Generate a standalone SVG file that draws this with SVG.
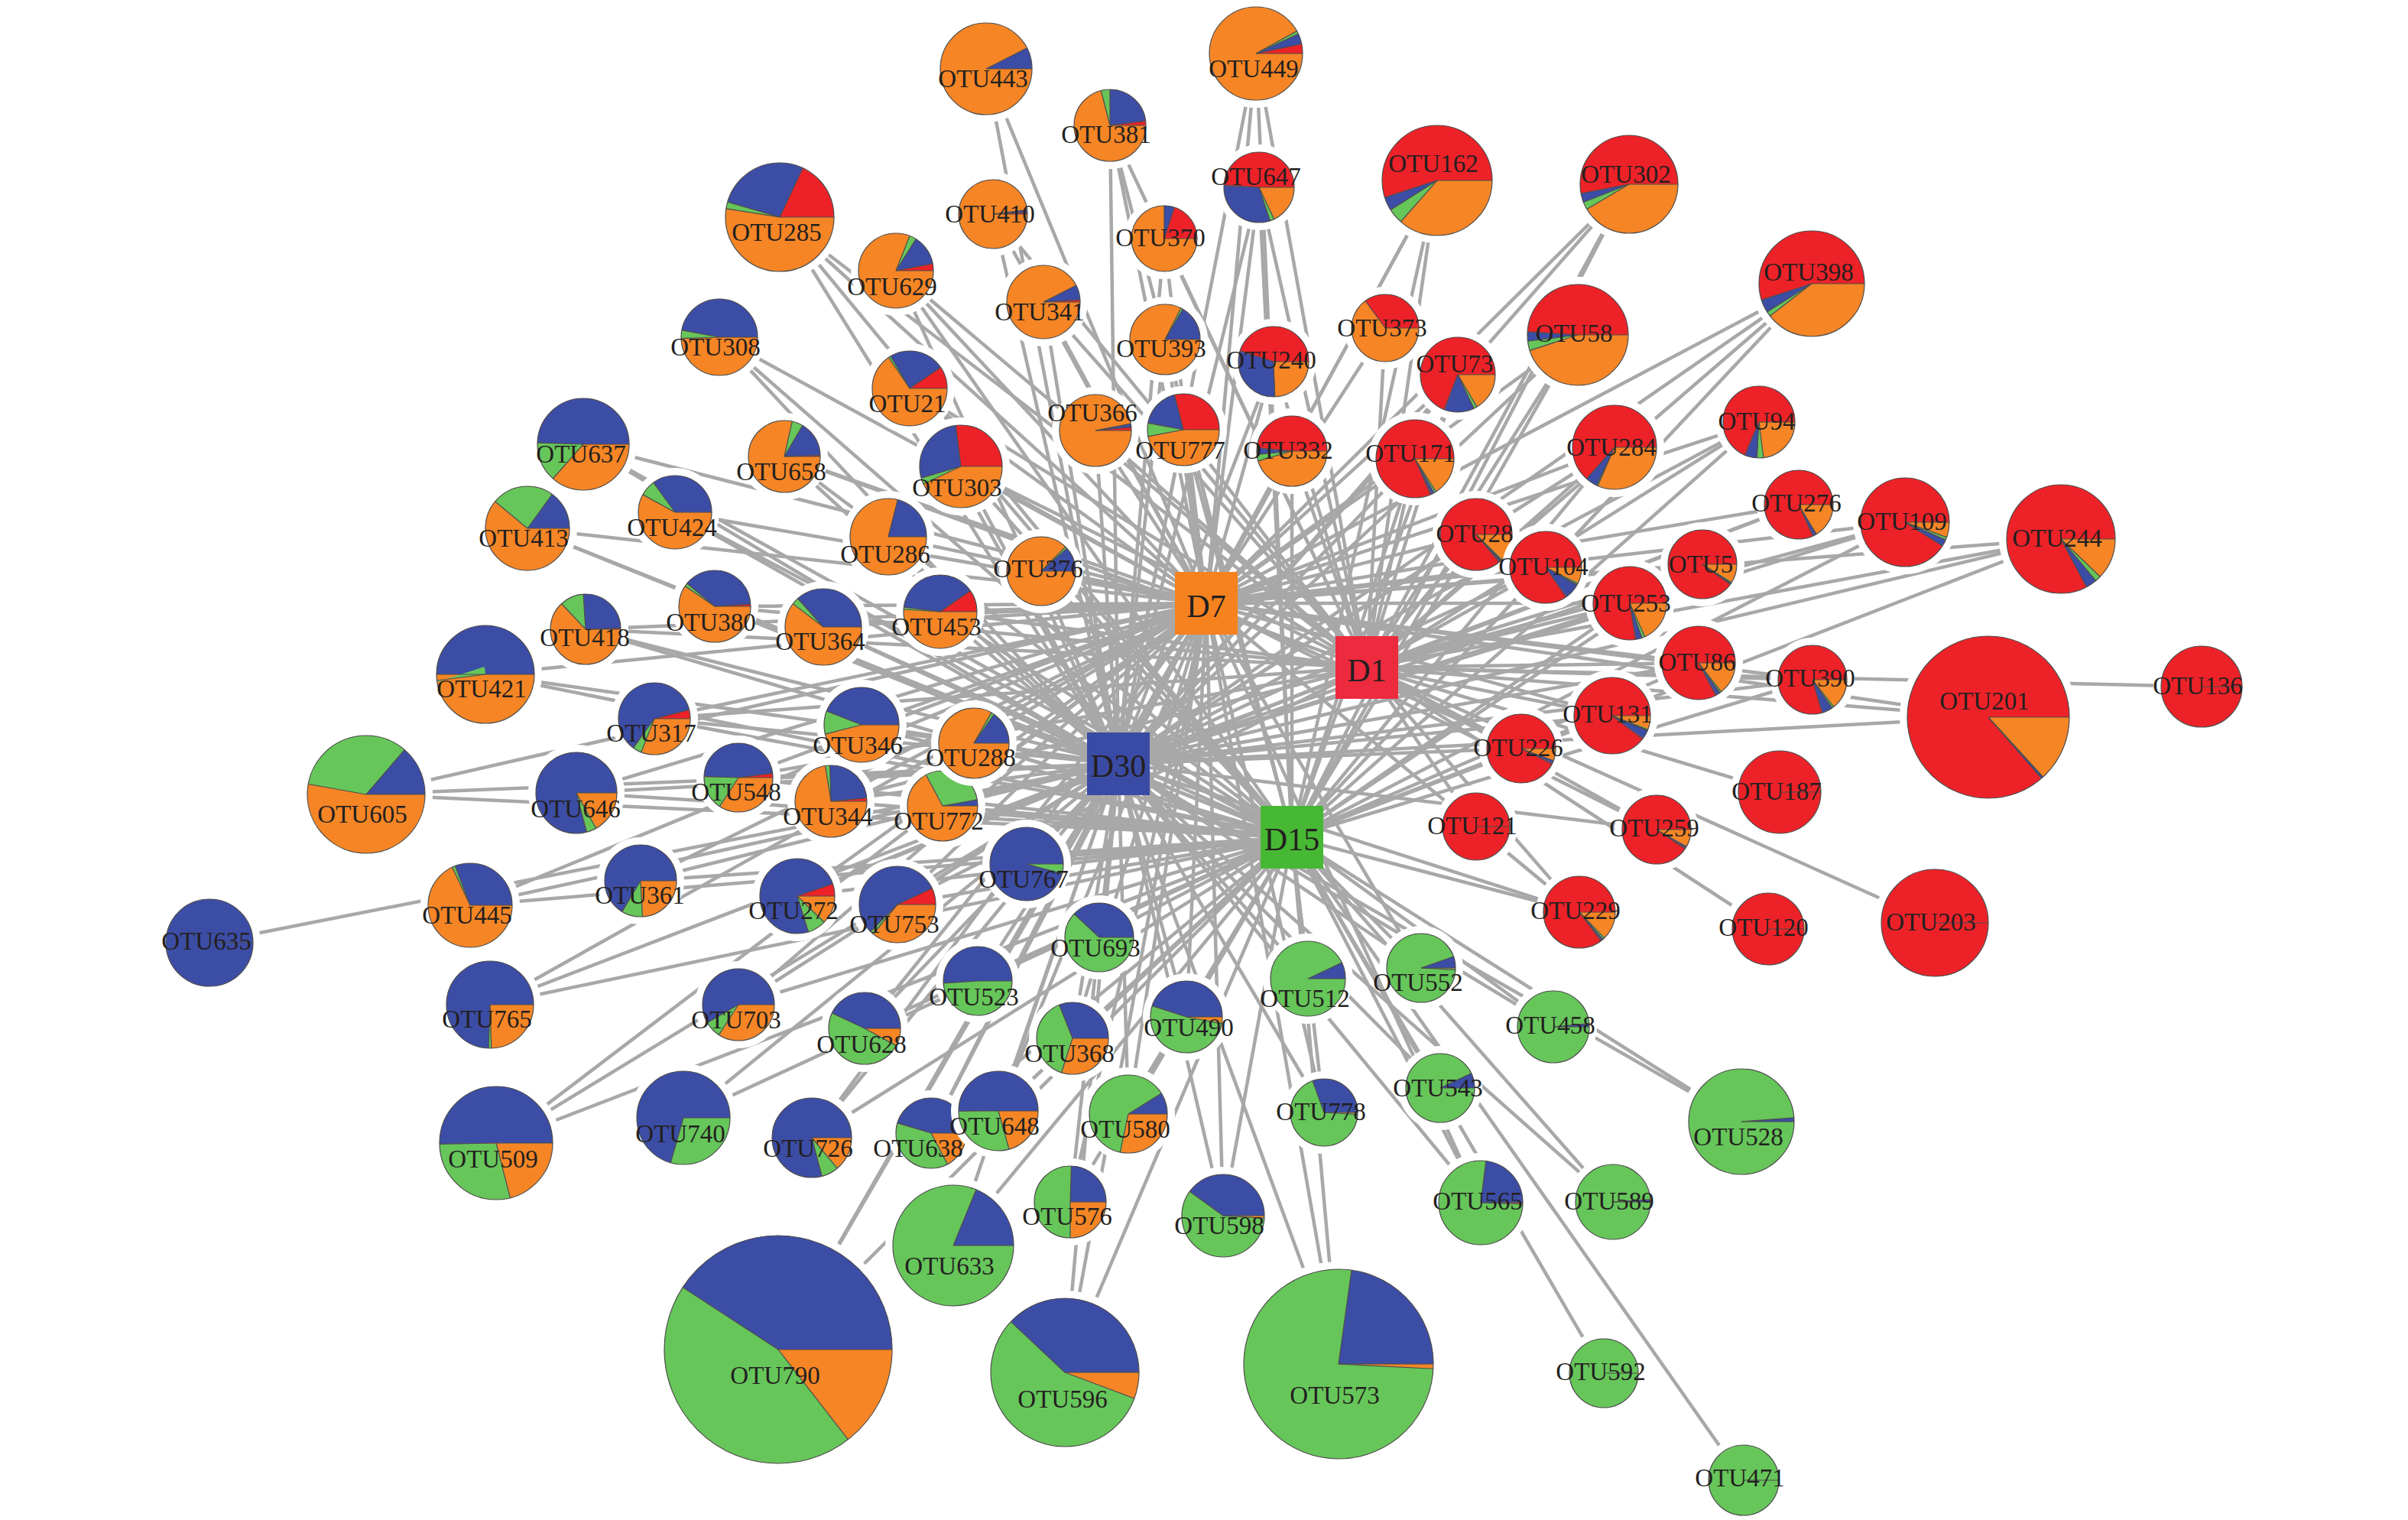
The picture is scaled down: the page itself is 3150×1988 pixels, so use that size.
<svg xmlns="http://www.w3.org/2000/svg" width="3150" height="1988" viewBox="0 0 3150 1988">
<style>
.bg{fill:#fff}
.e path{stroke:#A8A8A8;stroke-width:4.5;fill:none}
.h{fill:#fff}
.fr{fill:#ED2228}.fo{fill:#F58525}.fb{fill:#3C4DA6}.fg{fill:#66C65A}
.s{fill:none;stroke-width:100}
.r{stroke:#ED2228}.o{stroke:#F58525}.b{stroke:#3C4DA6}.g{stroke:#66C65A}
.l,.rim{stroke:#4d4d4d;stroke-width:1.2;vector-effect:non-scaling-stroke;fill:none}
text{font-family:"Liberation Serif","Times New Roman",serif;font-size:33px;fill:#231F20;text-anchor:middle}
.hub text{font-size:42px}
</style>
<rect class="bg" width="3150" height="1988"/>
<g id="edges" class="e">
<path id="e-D1" d="M1452 164L1788 873M1020 284L1788 873M1299 280L1788 873M1172 354L1788 873M1365 395L1788 873M1523 312L1788 873M1190 508L1788 873M1026 597L1788 873M1257 610L1788 873M1433 563L1788 873M1548 562L1788 873M1643 70L1788 873M1647 245L1788 873M1880 236L1788 873M2131 241L1788 873M1812 429L1788 873M1907 490L1788 873M2064 438L1788 873M2370 371L1788 873M1666 473L1788 873M1690 590L1788 873M1851 600L1788 873M2112 585L1788 873M2301 552L1788 873M1931 699L1788 873M2022 742L1788 873M2227 738L1788 873M2132 789L1788 873M2222 867L1788 873M2109 936L1788 873M2353 660L1788 873M2492 683L1788 873M2696 705L1788 873M2371 889L1788 873M2601 938L1788 873M2880 898L1788 873M2531 1207L1788 873M2328 1036L1788 873M1990 979L1788 873M1931 1081L1788 873M2167 1085L1788 873M2066 1193L1788 873M2313 1215L1788 873M1230 800L1788 873M935 793L1788 873M766 823L1788 873M856 940L1788 873M966 1017L1788 873M1087 1048L1788 873M1043 1172L1788 873M1174 1183L1788 873"/>
<path id="e-D7" d="M1290 90L1578 789M1452 164L1578 789M1020 284L1578 789M1299 280L1578 789M1172 354L1578 789M1365 395L1578 789M1523 312L1578 789M1524 444L1578 789M941 441L1578 789M1190 508L1578 789M1026 597L1578 789M1257 610L1578 789M1433 563L1578 789M1548 562L1578 789M763 581L1578 789M1643 70L1578 789M1647 245L1578 789M1880 236L1578 789M2131 241L1578 789M1812 429L1578 789M1907 490L1578 789M2064 438L1578 789M2370 371L1578 789M1666 473L1578 789M1690 590L1578 789M1851 600L1578 789M2112 585L1578 789M2301 552L1578 789M1931 699L1578 789M2022 742L1578 789M2227 738L1578 789M2132 789L1578 789M2222 867L1578 789M2109 936L1578 789M2353 660L1578 789M2492 683L1578 789M2696 705L1578 789M2371 889L1578 789M2601 938L1578 789M1990 979L1578 789M2167 1085L1578 789M2066 1193L1578 789M1859 1266L1578 789M1732 1455L1578 789M1937 1573L1578 789M1751 1784L1578 789M1600 1590L1578 789M1018 1765L1578 789M1393 1795L1578 789M1400 1572L1578 789M1476 1457L1578 789M1306 1453L1578 789M1218 1482L1578 789M1062 1488L1578 789M1131 1345L1578 789M1403 1358L1578 789M966 1314L1578 789M1552 1330L1578 789M883 670L1578 789M1162 702L1578 789M1362 747L1578 789M1230 800L1578 789M935 793L1578 789M1077 820L1578 789M766 823L1578 789M856 940L1578 789M1127 948L1578 789M1274 972L1578 789M966 1017L1578 789M1087 1048L1578 789M1233 1054L1578 789M1043 1172L1578 789M1174 1183L1578 789M838 1152L1578 789M754 1037L1578 789M635 882L1578 789M479 1039L1578 789M615 1184L1578 789M641 1314L1578 789M649 1495L1578 789M690 691L1578 789"/>
<path id="e-D15" d="M1452 164L1690 1095M1020 284L1690 1095M1172 354L1690 1095M1524 444L1690 1095M941 441L1690 1095M1190 508L1690 1095M1026 597L1690 1095M1257 610L1690 1095M1548 562L1690 1095M763 581L1690 1095M1643 70L1690 1095M1647 245L1690 1095M1880 236L1690 1095M2131 241L1690 1095M1907 490L1690 1095M2064 438L1690 1095M2370 371L1690 1095M1690 590L1690 1095M1851 600L1690 1095M2112 585L1690 1095M2301 552L1690 1095M1931 699L1690 1095M2022 742L1690 1095M2227 738L1690 1095M2132 789L1690 1095M2222 867L1690 1095M2109 936L1690 1095M2492 683L1690 1095M2696 705L1690 1095M2371 889L1690 1095M2066 1193L1690 1095M1859 1266L1690 1095M1711 1280L1690 1095M2032 1343L1690 1095M1884 1423L1690 1095M1732 1455L1690 1095M1937 1573L1690 1095M2110 1572L1690 1095M2278 1467L1690 1095M2098 1796L1690 1095M2281 1936L1690 1095M1751 1784L1690 1095M1600 1590L1690 1095M1018 1765L1690 1095M1393 1795L1690 1095M1247 1629L1690 1095M1400 1572L1690 1095M1476 1457L1690 1095M1306 1453L1690 1095M1218 1482L1690 1095M1062 1488L1690 1095M894 1462L1690 1095M1131 1345L1690 1095M1403 1358L1690 1095M966 1314L1690 1095M1552 1330L1690 1095M883 670L1690 1095M1362 747L1690 1095M1230 800L1690 1095M935 793L1690 1095M1077 820L1690 1095M766 823L1690 1095M856 940L1690 1095M1127 948L1690 1095M1274 972L1690 1095M966 1017L1690 1095M1087 1048L1690 1095M1233 1054L1690 1095M1343 1130L1690 1095M1438 1226L1690 1095M1279 1283L1690 1095M1043 1172L1690 1095M1174 1183L1690 1095M838 1152L1690 1095M754 1037L1690 1095M635 882L1690 1095M479 1039L1690 1095M615 1184L1690 1095M641 1314L1690 1095M649 1495L1690 1095M690 691L1690 1095"/>
<path id="e-D30" d="M1290 90L1463 999M1452 164L1463 999M1020 284L1463 999M1299 280L1463 999M1172 354L1463 999M1365 395L1463 999M1523 312L1463 999M1524 444L1463 999M941 441L1463 999M1190 508L1463 999M1026 597L1463 999M1257 610L1463 999M1433 563L1463 999M1548 562L1463 999M763 581L1463 999M1643 70L1463 999M1647 245L1463 999M1880 236L1463 999M2131 241L1463 999M1907 490L1463 999M2064 438L1463 999M2370 371L1463 999M1666 473L1463 999M1690 590L1463 999M1851 600L1463 999M2112 585L1463 999M2301 552L1463 999M1931 699L1463 999M2022 742L1463 999M2227 738L1463 999M2132 789L1463 999M2222 867L1463 999M2109 936L1463 999M2353 660L1463 999M2492 683L1463 999M2696 705L1463 999M2371 889L1463 999M2601 938L1463 999M1990 979L1463 999M2167 1085L1463 999M2066 1193L1463 999M1859 1266L1463 999M1711 1280L1463 999M2032 1343L1463 999M1884 1423L1463 999M1732 1455L1463 999M1937 1573L1463 999M2110 1572L1463 999M2278 1467L1463 999M1751 1784L1463 999M1600 1590L1463 999M1018 1765L1463 999M1393 1795L1463 999M1247 1629L1463 999M1400 1572L1463 999M1476 1457L1463 999M1306 1453L1463 999M1218 1482L1463 999M1062 1488L1463 999M894 1462L1463 999M1131 1345L1463 999M1403 1358L1463 999M966 1314L1463 999M1552 1330L1463 999M883 670L1463 999M1162 702L1463 999M1362 747L1463 999M1230 800L1463 999M935 793L1463 999M1077 820L1463 999M766 823L1463 999M856 940L1463 999M1127 948L1463 999M1274 972L1463 999M966 1017L1463 999M1087 1048L1463 999M1233 1054L1463 999M1343 1130L1463 999M1438 1226L1463 999M1279 1283L1463 999M1043 1172L1463 999M1174 1183L1463 999M838 1152L1463 999M754 1037L1463 999M635 882L1463 999M479 1039L1463 999M615 1184L1463 999M274 1233L1463 999M641 1314L1463 999M649 1495L1463 999M690 691L1463 999"/>
</g>
<g id="nodes">
<g id="OTU443"><circle class="h" cx="1290" cy="90" r="70"/><g transform="translate(1290 90) scale(.6 -.6)"><circle class="fo" r="100"/><circle class="s b" r="50" pathLength="100" stroke-dasharray="7.5 100"/><line class="l" x2="100"/><line class="l" x2="100" transform="rotate(27)"/><circle class="rim" r="100"/></g><text x="1286" y="114">OTU443</text></g>
<g id="OTU381"><circle class="h" cx="1452" cy="164" r="57"/><g transform="translate(1452 164) scale(.47 -.47)"><circle class="fo" r="100"/><circle class="s r" r="50" pathLength="100" stroke-dasharray="2 100"/><circle class="s b" r="50" pathLength="100" stroke-dasharray="23 100" stroke-dashoffset="-2"/><circle class="s g" r="50" pathLength="100" stroke-dasharray="4 100" stroke-dashoffset="-25"/><line class="l" x2="100"/><line class="l" x2="100" transform="rotate(7.2)"/><line class="l" x2="100" transform="rotate(90)"/><line class="l" x2="100" transform="rotate(104.4)"/><circle class="rim" r="100"/></g><text x="1447" y="187">OTU381</text></g>
<g id="OTU285"><circle class="h" cx="1020" cy="284" r="81"/><g transform="translate(1020 284) scale(.71 -.71)"><circle class="fo" r="100"/><circle class="s r" r="50" pathLength="100" stroke-dasharray="18 100"/><circle class="s b" r="50" pathLength="100" stroke-dasharray="27.5 100" stroke-dashoffset="-18"/><circle class="s g" r="50" pathLength="100" stroke-dasharray="2 100" stroke-dashoffset="-45.5"/><line class="l" x2="100"/><line class="l" x2="100" transform="rotate(64.8)"/><line class="l" x2="100" transform="rotate(163.8)"/><line class="l" x2="100" transform="rotate(171)"/><circle class="rim" r="100"/></g><text x="1016" y="315">OTU285</text></g>
<g id="OTU410"><circle class="h" cx="1299" cy="280" r="55"/><g transform="translate(1299 280) scale(.45 -.45)"><circle class="fo" r="100"/><circle class="s r" r="50" pathLength="100" stroke-dasharray="0.8 100"/><circle class="s b" r="50" pathLength="100" stroke-dasharray="1.2 100" stroke-dashoffset="-0.8"/><line class="l" x2="100"/><line class="l" x2="100" transform="rotate(2.9)"/><line class="l" x2="100" transform="rotate(7.2)"/><circle class="rim" r="100"/></g><text x="1295" y="291">OTU410</text></g>
<g id="OTU629"><circle class="h" cx="1172" cy="354" r="59"/><g transform="translate(1172 354) scale(.49 -.49)"><circle class="fo" r="100"/><circle class="s r" r="50" pathLength="100" stroke-dasharray="3 100"/><circle class="s b" r="50" pathLength="100" stroke-dasharray="13 100" stroke-dashoffset="-3"/><circle class="s g" r="50" pathLength="100" stroke-dasharray="3 100" stroke-dashoffset="-16"/><line class="l" x2="100"/><line class="l" x2="100" transform="rotate(10.8)"/><line class="l" x2="100" transform="rotate(57.6)"/><line class="l" x2="100" transform="rotate(68.4)"/><circle class="rim" r="100"/></g><text x="1167" y="386">OTU629</text></g>
<g id="OTU341"><circle class="h" cx="1365" cy="395" r="58"/><g transform="translate(1365 395) scale(.48 -.48)"><circle class="fo" r="100"/><circle class="s r" r="50" pathLength="100" stroke-dasharray="1 100"/><circle class="s b" r="50" pathLength="100" stroke-dasharray="6.5 100" stroke-dashoffset="-1"/><line class="l" x2="100"/><line class="l" x2="100" transform="rotate(3.6)"/><line class="l" x2="100" transform="rotate(27)"/><circle class="rim" r="100"/></g><text x="1360" y="419">OTU341</text></g>
<g id="OTU370"><circle class="h" cx="1523" cy="312" r="53"/><g transform="translate(1523 312) scale(.43 -.43)"><circle class="fo" r="100"/><circle class="s r" r="50" pathLength="100" stroke-dasharray="20 100"/><circle class="s b" r="50" pathLength="100" stroke-dasharray="5 100" stroke-dashoffset="-20"/><line class="l" x2="100"/><line class="l" x2="100" transform="rotate(72)"/><line class="l" x2="100" transform="rotate(90)"/><circle class="rim" r="100"/></g><text x="1518" y="322">OTU370</text></g>
<g id="OTU393"><circle class="h" cx="1524" cy="444" r="56"/><g transform="translate(1524 444) scale(.46 -.46)"><circle class="fo" r="100"/><circle class="s b" r="50" pathLength="100" stroke-dasharray="16.5 100"/><circle class="s g" r="50" pathLength="100" stroke-dasharray="1 100" stroke-dashoffset="-16.5"/><line class="l" x2="100"/><line class="l" x2="100" transform="rotate(59.4)"/><line class="l" x2="100" transform="rotate(63)"/><circle class="rim" r="100"/></g><text x="1519" y="467">OTU393</text></g>
<g id="OTU308"><circle class="h" cx="941" cy="441" r="60"/><g transform="translate(941 441) scale(.5 -.5)"><circle class="fo" r="100"/><circle class="s b" r="50" pathLength="100" stroke-dasharray="47 100"/><circle class="s g" r="50" pathLength="100" stroke-dasharray="3.5 100" stroke-dashoffset="-47"/><line class="l" x2="100"/><line class="l" x2="100" transform="rotate(169.2)"/><line class="l" x2="100" transform="rotate(181.8)"/><circle class="rim" r="100"/></g><text x="936" y="465">OTU308</text></g>
<g id="OTU21"><circle class="h" cx="1190" cy="508" r="59"/><g transform="translate(1190 508) scale(.49 -.49)"><circle class="fo" r="100"/><circle class="s r" r="50" pathLength="100" stroke-dasharray="9.5 100"/><circle class="s b" r="50" pathLength="100" stroke-dasharray="24 100" stroke-dashoffset="-9.5"/><circle class="s g" r="50" pathLength="100" stroke-dasharray="1 100" stroke-dashoffset="-33.5"/><line class="l" x2="100"/><line class="l" x2="100" transform="rotate(34.2)"/><line class="l" x2="100" transform="rotate(120.6)"/><line class="l" x2="100" transform="rotate(124.2)"/><circle class="rim" r="100"/></g><text x="1187" y="539">OTU21</text></g>
<g id="OTU658"><circle class="h" cx="1026" cy="597" r="57"/><g transform="translate(1026 597) scale(.47 -.47)"><circle class="fo" r="100"/><circle class="s r" r="50" pathLength="100" stroke-dasharray="0.5 100"/><circle class="s b" r="50" pathLength="100" stroke-dasharray="16 100" stroke-dashoffset="-0.5"/><circle class="s g" r="50" pathLength="100" stroke-dasharray="5 100" stroke-dashoffset="-16.5"/><line class="l" x2="100"/><line class="l" x2="100" transform="rotate(1.8)"/><line class="l" x2="100" transform="rotate(59.4)"/><line class="l" x2="100" transform="rotate(77.4)"/><circle class="rim" r="100"/></g><text x="1022" y="628">OTU658</text></g>
<g id="OTU303"><circle class="h" cx="1257" cy="610" r="64"/><g transform="translate(1257 610) scale(.54 -.54)"><circle class="fo" r="100"/><circle class="s r" r="50" pathLength="100" stroke-dasharray="27 100"/><circle class="s b" r="50" pathLength="100" stroke-dasharray="27.5 100" stroke-dashoffset="-27"/><circle class="s g" r="50" pathLength="100" stroke-dasharray="2.5 100" stroke-dashoffset="-54.5"/><line class="l" x2="100"/><line class="l" x2="100" transform="rotate(97.2)"/><line class="l" x2="100" transform="rotate(196.2)"/><line class="l" x2="100" transform="rotate(205.2)"/><circle class="rim" r="100"/></g><text x="1252" y="649">OTU303</text></g>
<g id="OTU366"><circle class="h" cx="1433" cy="563" r="57"/><g transform="translate(1433 563) scale(.47 -.47)"><circle class="fo" r="100"/><circle class="s r" r="50" pathLength="100" stroke-dasharray="1.5 100"/><circle class="s b" r="50" pathLength="100" stroke-dasharray="1.5 100" stroke-dashoffset="-1.5"/><line class="l" x2="100"/><line class="l" x2="100" transform="rotate(5.4)"/><line class="l" x2="100" transform="rotate(10.8)"/><circle class="rim" r="100"/></g><text x="1429" y="551">OTU366</text></g>
<g id="OTU777"><circle class="h" cx="1548" cy="562" r="57"/><g transform="translate(1548 562) scale(.47 -.47)"><circle class="fo" r="100"/><circle class="s r" r="50" pathLength="100" stroke-dasharray="29 100"/><circle class="s b" r="50" pathLength="100" stroke-dasharray="18 100" stroke-dashoffset="-29"/><circle class="s g" r="50" pathLength="100" stroke-dasharray="6 100" stroke-dashoffset="-47"/><line class="l" x2="100"/><line class="l" x2="100" transform="rotate(104.4)"/><line class="l" x2="100" transform="rotate(169.2)"/><line class="l" x2="100" transform="rotate(190.8)"/><circle class="rim" r="100"/></g><text x="1544" y="600">OTU777</text></g>
<g id="OTU637"><circle class="h" cx="763" cy="581" r="70"/><g transform="translate(763 581) scale(.6 -.6)"><circle class="fo" r="100"/><circle class="s b" r="50" pathLength="100" stroke-dasharray="49.5 100"/><circle class="s g" r="50" pathLength="100" stroke-dasharray="14 100" stroke-dashoffset="-49.5"/><line class="l" x2="100"/><line class="l" x2="100" transform="rotate(178.2)"/><line class="l" x2="100" transform="rotate(228.6)"/><circle class="rim" r="100"/></g><text x="760" y="605">OTU637</text></g>
<g id="OTU449"><circle class="h" cx="1643" cy="70" r="71"/><g transform="translate(1643 70) scale(.61 -.61)"><circle class="fo" r="100"/><circle class="s r" r="50" pathLength="100" stroke-dasharray="3.3 100"/><circle class="s b" r="50" pathLength="100" stroke-dasharray="3.6 100" stroke-dashoffset="-3.3"/><circle class="s g" r="50" pathLength="100" stroke-dasharray="1.1 100" stroke-dashoffset="-6.9"/><line class="l" x2="100"/><line class="l" x2="100" transform="rotate(11.9)"/><line class="l" x2="100" transform="rotate(24.8)"/><line class="l" x2="100" transform="rotate(28.8)"/><circle class="rim" r="100"/></g><text x="1640" y="101">OTU449</text></g>
<g id="OTU647"><circle class="h" cx="1647" cy="245" r="56"/><g transform="translate(1647 245) scale(.46 -.46)"><circle class="fo" r="100"/><circle class="s r" r="50" pathLength="100" stroke-dasharray="49 100"/><circle class="s b" r="50" pathLength="100" stroke-dasharray="31 100" stroke-dashoffset="-49"/><circle class="s g" r="50" pathLength="100" stroke-dasharray="2 100" stroke-dashoffset="-80"/><line class="l" x2="100"/><line class="l" x2="100" transform="rotate(176.4)"/><line class="l" x2="100" transform="rotate(288)"/><line class="l" x2="100" transform="rotate(295.2)"/><circle class="rim" r="100"/></g><text x="1643" y="242">OTU647</text></g>
<g id="OTU162"><circle class="h" cx="1880" cy="236" r="82"/><g transform="translate(1880 236) scale(.72 -.72)"><circle class="fo" r="100"/><circle class="s r" r="50" pathLength="100" stroke-dasharray="55 100"/><circle class="s b" r="50" pathLength="100" stroke-dasharray="4 100" stroke-dashoffset="-55"/><circle class="s g" r="50" pathLength="100" stroke-dasharray="4.5 100" stroke-dashoffset="-59"/><line class="l" x2="100"/><line class="l" x2="100" transform="rotate(198)"/><line class="l" x2="100" transform="rotate(212.4)"/><line class="l" x2="100" transform="rotate(228.6)"/><circle class="rim" r="100"/></g><text x="1875" y="225">OTU162</text></g>
<g id="OTU302"><circle class="h" cx="2131" cy="241" r="74"/><g transform="translate(2131 241) scale(.64 -.64)"><circle class="fo" r="100"/><circle class="s r" r="50" pathLength="100" stroke-dasharray="53 100"/><circle class="s b" r="50" pathLength="100" stroke-dasharray="3 100" stroke-dashoffset="-53"/><circle class="s g" r="50" pathLength="100" stroke-dasharray="2.5 100" stroke-dashoffset="-56"/><line class="l" x2="100"/><line class="l" x2="100" transform="rotate(190.8)"/><line class="l" x2="100" transform="rotate(201.6)"/><line class="l" x2="100" transform="rotate(210.6)"/><circle class="rim" r="100"/></g><text x="2127" y="239">OTU302</text></g>
<g id="OTU373"><circle class="h" cx="1812" cy="429" r="54"/><g transform="translate(1812 429) scale(.44 -.44)"><circle class="fo" r="100"/><circle class="s r" r="50" pathLength="100" stroke-dasharray="35 100"/><line class="l" x2="100"/><line class="l" x2="100" transform="rotate(126)"/><circle class="rim" r="100"/></g><text x="1808" y="440">OTU373</text></g>
<g id="OTU73"><circle class="h" cx="1907" cy="490" r="59"/><g transform="translate(1907 490) scale(.49 -.49)"><circle class="fo" r="100"/><circle class="s r" r="50" pathLength="100" stroke-dasharray="69 100"/><circle class="s b" r="50" pathLength="100" stroke-dasharray="13 100" stroke-dashoffset="-69"/><circle class="s g" r="50" pathLength="100" stroke-dasharray="1.5 100" stroke-dashoffset="-82"/><line class="l" x2="100"/><line class="l" x2="100" transform="rotate(248.4)"/><line class="l" x2="100" transform="rotate(295.2)"/><line class="l" x2="100" transform="rotate(300.6)"/><circle class="rim" r="100"/></g><text x="1903" y="487">OTU73</text></g>
<g id="OTU58"><circle class="h" cx="2064" cy="438" r="76"/><g transform="translate(2064 438) scale(.66 -.66)"><circle class="fo" r="100"/><circle class="s r" r="50" pathLength="100" stroke-dasharray="49 100"/><circle class="s b" r="50" pathLength="100" stroke-dasharray="3 100" stroke-dashoffset="-49"/><circle class="s g" r="50" pathLength="100" stroke-dasharray="3 100" stroke-dashoffset="-52"/><line class="l" x2="100"/><line class="l" x2="100" transform="rotate(176.4)"/><line class="l" x2="100" transform="rotate(187.2)"/><line class="l" x2="100" transform="rotate(198)"/><circle class="rim" r="100"/></g><text x="2059" y="447">OTU58</text></g>
<g id="OTU398"><circle class="h" cx="2370" cy="371" r="79"/><g transform="translate(2370 371) scale(.69 -.69)"><circle class="fo" r="100"/><circle class="s r" r="50" pathLength="100" stroke-dasharray="55 100"/><circle class="s b" r="50" pathLength="100" stroke-dasharray="4 100" stroke-dashoffset="-55"/><circle class="s g" r="50" pathLength="100" stroke-dasharray="1.5 100" stroke-dashoffset="-59"/><line class="l" x2="100"/><line class="l" x2="100" transform="rotate(198)"/><line class="l" x2="100" transform="rotate(212.4)"/><line class="l" x2="100" transform="rotate(217.8)"/><circle class="rim" r="100"/></g><text x="2366" y="367">OTU398</text></g>
<g id="OTU240"><circle class="h" cx="1666" cy="473" r="56"/><g transform="translate(1666 473) scale(.46 -.46)"><circle class="fo" r="100"/><circle class="s r" r="50" pathLength="100" stroke-dasharray="45 100"/><circle class="s b" r="50" pathLength="100" stroke-dasharray="30.5 100" stroke-dashoffset="-45"/><line class="l" x2="100"/><line class="l" x2="100" transform="rotate(162)"/><line class="l" x2="100" transform="rotate(271.8)"/><circle class="rim" r="100"/></g><text x="1663" y="482">OTU240</text></g>
<g id="OTU332"><circle class="h" cx="1690" cy="590" r="56"/><g transform="translate(1690 590) scale(.46 -.46)"><circle class="fo" r="100"/><circle class="s r" r="50" pathLength="100" stroke-dasharray="48.5 100"/><circle class="s b" r="50" pathLength="100" stroke-dasharray="3 100" stroke-dashoffset="-48.5"/><circle class="s g" r="50" pathLength="100" stroke-dasharray="3 100" stroke-dashoffset="-51.5"/><line class="l" x2="100"/><line class="l" x2="100" transform="rotate(174.6)"/><line class="l" x2="100" transform="rotate(185.4)"/><line class="l" x2="100" transform="rotate(196.2)"/><circle class="rim" r="100"/></g><text x="1685" y="600">OTU332</text></g>
<g id="OTU171"><circle class="h" cx="1851" cy="600" r="61"/><g transform="translate(1851 600) scale(.51 -.51)"><circle class="fo" r="100"/><circle class="s r" r="50" pathLength="100" stroke-dasharray="81.5 100"/><circle class="s b" r="50" pathLength="100" stroke-dasharray="1.5 100" stroke-dashoffset="-81.5"/><circle class="s g" r="50" pathLength="100" stroke-dasharray="1 100" stroke-dashoffset="-83"/><line class="l" x2="100"/><line class="l" x2="100" transform="rotate(293.4)"/><line class="l" x2="100" transform="rotate(298.8)"/><line class="l" x2="100" transform="rotate(302.4)"/><circle class="rim" r="100"/></g><text x="1845" y="604">OTU171</text></g>
<g id="OTU284"><circle class="h" cx="2112" cy="585" r="65"/><g transform="translate(2112 585) scale(.55 -.55)"><circle class="fo" r="100"/><circle class="s r" r="50" pathLength="100" stroke-dasharray="63.5 100"/><circle class="s b" r="50" pathLength="100" stroke-dasharray="4.5 100" stroke-dashoffset="-63.5"/><circle class="s g" r="50" pathLength="100" stroke-dasharray="0.5 100" stroke-dashoffset="-68"/><line class="l" x2="100"/><line class="l" x2="100" transform="rotate(228.6)"/><line class="l" x2="100" transform="rotate(244.8)"/><line class="l" x2="100" transform="rotate(246.6)"/><circle class="rim" r="100"/></g><text x="2108" y="596">OTU284</text></g>
<g id="OTU94"><circle class="h" cx="2301" cy="552" r="57"/><g transform="translate(2301 552) scale(.47 -.47)"><circle class="fo" r="100"/><circle class="s r" r="50" pathLength="100" stroke-dasharray="68.5 100"/><circle class="s b" r="50" pathLength="100" stroke-dasharray="5.5 100" stroke-dashoffset="-68.5"/><circle class="s g" r="50" pathLength="100" stroke-dasharray="3 100" stroke-dashoffset="-74"/><line class="l" x2="100"/><line class="l" x2="100" transform="rotate(246.6)"/><line class="l" x2="100" transform="rotate(266.4)"/><line class="l" x2="100" transform="rotate(277.2)"/><circle class="rim" r="100"/></g><text x="2298" y="562">OTU94</text></g>
<g id="OTU28"><circle class="h" cx="1931" cy="699" r="57"/><g transform="translate(1931 699) scale(.47 -.47)"><circle class="fo" r="100"/><circle class="s r" r="50" pathLength="100" stroke-dasharray="86 100"/><circle class="s b" r="50" pathLength="100" stroke-dasharray="1 100" stroke-dashoffset="-86"/><circle class="s g" r="50" pathLength="100" stroke-dasharray="0.5 100" stroke-dashoffset="-87"/><line class="l" x2="100"/><line class="l" x2="100" transform="rotate(309.6)"/><line class="l" x2="100" transform="rotate(313.2)"/><line class="l" x2="100" transform="rotate(315)"/><circle class="rim" r="100"/></g><text x="1929" y="709">OTU28</text></g>
<g id="OTU104"><circle class="h" cx="2022" cy="742" r="57"/><g transform="translate(2022 742) scale(.47 -.47)"><circle class="fo" r="100"/><circle class="s r" r="50" pathLength="100" stroke-dasharray="84.5 100"/><circle class="s b" r="50" pathLength="100" stroke-dasharray="7.2 100" stroke-dashoffset="-84.5"/><circle class="s g" r="50" pathLength="100" stroke-dasharray="0.8 100" stroke-dashoffset="-91.7"/><line class="l" x2="100"/><line class="l" x2="100" transform="rotate(304.2)"/><line class="l" x2="100" transform="rotate(330.1)"/><line class="l" x2="100" transform="rotate(333)"/><circle class="rim" r="100"/></g><text x="2019" y="752">OTU104</text></g>
<g id="OTU5"><circle class="h" cx="2227" cy="738" r="55"/><g transform="translate(2227 738) scale(.45 -.45)"><circle class="fo" r="100"/><circle class="s r" r="50" pathLength="100" stroke-dasharray="90 100"/><circle class="s b" r="50" pathLength="100" stroke-dasharray="0.5 100" stroke-dashoffset="-90"/><circle class="s g" r="50" pathLength="100" stroke-dasharray="0.5 100" stroke-dashoffset="-90.5"/><line class="l" x2="100"/><line class="l" x2="100" transform="rotate(324)"/><line class="l" x2="100" transform="rotate(325.8)"/><line class="l" x2="100" transform="rotate(327.6)"/><circle class="rim" r="100"/></g><text x="2225" y="749">OTU5</text></g>
<g id="OTU253"><circle class="h" cx="2132" cy="789" r="58"/><g transform="translate(2132 789) scale(.48 -.48)"><circle class="fo" r="100"/><circle class="s r" r="50" pathLength="100" stroke-dasharray="77.5 100"/><circle class="s b" r="50" pathLength="100" stroke-dasharray="2.8 100" stroke-dashoffset="-77.5"/><circle class="s g" r="50" pathLength="100" stroke-dasharray="1.4 100" stroke-dashoffset="-80.3"/><line class="l" x2="100"/><line class="l" x2="100" transform="rotate(279)"/><line class="l" x2="100" transform="rotate(289.1)"/><line class="l" x2="100" transform="rotate(294.1)"/><circle class="rim" r="100"/></g><text x="2127" y="800">OTU253</text></g>
<g id="OTU86"><circle class="h" cx="2222" cy="867" r="58"/><g transform="translate(2222 867) scale(.48 -.48)"><circle class="fo" r="100"/><circle class="s r" r="50" pathLength="100" stroke-dasharray="82.7 100"/><circle class="s b" r="50" pathLength="100" stroke-dasharray="2 100" stroke-dashoffset="-82.7"/><circle class="s g" r="50" pathLength="100" stroke-dasharray="0.8 100" stroke-dashoffset="-84.7"/><line class="l" x2="100"/><line class="l" x2="100" transform="rotate(297.7)"/><line class="l" x2="100" transform="rotate(304.9)"/><line class="l" x2="100" transform="rotate(307.8)"/><circle class="rim" r="100"/></g><text x="2220" y="877">OTU86</text></g>
<g id="OTU131"><circle class="h" cx="2109" cy="936" r="60"/><g transform="translate(2109 936) scale(.5 -.5)"><circle class="fo" r="100"/><circle class="s r" r="50" pathLength="100" stroke-dasharray="89.5 100"/><circle class="s b" r="50" pathLength="100" stroke-dasharray="4 100" stroke-dashoffset="-89.5"/><circle class="s g" r="50" pathLength="100" stroke-dasharray="0.5 100" stroke-dashoffset="-93.5"/><line class="l" x2="100"/><line class="l" x2="100" transform="rotate(322.2)"/><line class="l" x2="100" transform="rotate(336.6)"/><line class="l" x2="100" transform="rotate(338.4)"/><circle class="rim" r="100"/></g><text x="2103" y="945">OTU131</text></g>
<g id="OTU276"><circle class="h" cx="2353" cy="660" r="55"/><g transform="translate(2353 660) scale(.45 -.45)"><circle class="fo" r="100"/><circle class="s r" r="50" pathLength="100" stroke-dasharray="81.7 100"/><circle class="s b" r="50" pathLength="100" stroke-dasharray="1.7 100" stroke-dashoffset="-81.7"/><line class="l" x2="100"/><line class="l" x2="100" transform="rotate(294.1)"/><line class="l" x2="100" transform="rotate(300.2)"/><circle class="rim" r="100"/></g><text x="2350" y="669">OTU276</text></g>
<g id="OTU109"><circle class="h" cx="2492" cy="683" r="68"/><g transform="translate(2492 683) scale(.58 -.58)"><circle class="fo" r="100"/><circle class="s r" r="50" pathLength="100" stroke-dasharray="91 100"/><circle class="s b" r="50" pathLength="100" stroke-dasharray="2.5 100" stroke-dashoffset="-91"/><circle class="s g" r="50" pathLength="100" stroke-dasharray="1 100" stroke-dashoffset="-93.5"/><line class="l" x2="100"/><line class="l" x2="100" transform="rotate(327.6)"/><line class="l" x2="100" transform="rotate(336.6)"/><line class="l" x2="100" transform="rotate(340.2)"/><circle class="rim" r="100"/></g><text x="2488" y="693">OTU109</text></g>
<g id="OTU244"><circle class="h" cx="2696" cy="705" r="81"/><g transform="translate(2696 705) scale(.71 -.71)"><circle class="fo" r="100"/><circle class="s r" r="50" pathLength="100" stroke-dasharray="82.8 100"/><circle class="s b" r="50" pathLength="100" stroke-dasharray="3.3 100" stroke-dashoffset="-82.8"/><circle class="s g" r="50" pathLength="100" stroke-dasharray="1.7 100" stroke-dashoffset="-86.1"/><line class="l" x2="100"/><line class="l" x2="100" transform="rotate(298.1)"/><line class="l" x2="100" transform="rotate(310)"/><line class="l" x2="100" transform="rotate(316.1)"/><circle class="rim" r="100"/></g><text x="2691" y="715">OTU244</text></g>
<g id="OTU390"><circle class="h" cx="2371" cy="889" r="55"/><g transform="translate(2371 889) scale(.45 -.45)"><circle class="fo" r="100"/><circle class="s r" r="50" pathLength="100" stroke-dasharray="79.5 100"/><circle class="s b" r="50" pathLength="100" stroke-dasharray="5 100" stroke-dashoffset="-79.5"/><circle class="s g" r="50" pathLength="100" stroke-dasharray="1 100" stroke-dashoffset="-84.5"/><line class="l" x2="100"/><line class="l" x2="100" transform="rotate(286.2)"/><line class="l" x2="100" transform="rotate(304.2)"/><line class="l" x2="100" transform="rotate(307.8)"/><circle class="rim" r="100"/></g><text x="2368" y="898">OTU390</text></g>
<g id="OTU201"><circle class="h" cx="2601" cy="938" r="116"/><g transform="translate(2601 938) scale(1.06 -1.06)"><circle class="fo" r="100"/><circle class="s r" r="50" pathLength="100" stroke-dasharray="86.4 100"/><circle class="s b" r="50" pathLength="100" stroke-dasharray="0.4 100" stroke-dashoffset="-86.4"/><line class="l" x2="100"/><line class="l" x2="100" transform="rotate(311)"/><line class="l" x2="100" transform="rotate(312.5)"/><circle class="rim" r="100"/></g><text x="2596" y="928">OTU201</text></g>
<g id="OTU136"><circle class="h" cx="2880" cy="898" r="63"/><g transform="translate(2880 898) scale(.53 -.53)"><circle class="fr" r="100"/><line class="l" x2="100"/><circle class="rim" r="100"/></g><text x="2875" y="908">OTU136</text></g>
<g id="OTU203"><circle class="h" cx="2531" cy="1207" r="80"/><g transform="translate(2531 1207) scale(.7 -.7)"><circle class="fr" r="100"/><line class="l" x2="100"/><circle class="rim" r="100"/></g><text x="2526" y="1217">OTU203</text></g>
<g id="OTU187"><circle class="h" cx="2328" cy="1036" r="64"/><g transform="translate(2328 1036) scale(.54 -.54)"><circle class="fr" r="100"/><line class="l" x2="100"/><circle class="rim" r="100"/></g><text x="2324" y="1046">OTU187</text></g>
<g id="OTU226"><circle class="h" cx="1990" cy="979" r="55"/><g transform="translate(1990 979) scale(.45 -.45)"><circle class="fo" r="100"/><circle class="s r" r="50" pathLength="100" stroke-dasharray="92.5 100"/><circle class="s b" r="50" pathLength="100" stroke-dasharray="1.5 100" stroke-dashoffset="-92.5"/><line class="l" x2="100"/><line class="l" x2="100" transform="rotate(333)"/><line class="l" x2="100" transform="rotate(338.4)"/><circle class="rim" r="100"/></g><text x="1986" y="989">OTU226</text></g>
<g id="OTU121"><circle class="h" cx="1931" cy="1081" r="54"/><g transform="translate(1931 1081) scale(.44 -.44)"><circle class="fr" r="100"/><line class="l" x2="100"/><circle class="rim" r="100"/></g><text x="1926" y="1091">OTU121</text></g>
<g id="OTU259"><circle class="h" cx="2167" cy="1085" r="55"/><g transform="translate(2167 1085) scale(.45 -.45)"><circle class="fo" r="100"/><circle class="s r" r="50" pathLength="100" stroke-dasharray="90.5 100"/><circle class="s b" r="50" pathLength="100" stroke-dasharray="1 100" stroke-dashoffset="-90.5"/><line class="l" x2="100"/><line class="l" x2="100" transform="rotate(325.8)"/><line class="l" x2="100" transform="rotate(329.4)"/><circle class="rim" r="100"/></g><text x="2164" y="1094">OTU259</text></g>
<g id="OTU229"><circle class="h" cx="2066" cy="1193" r="57"/><g transform="translate(2066 1193) scale(.47 -.47)"><circle class="fo" r="100"/><circle class="s r" r="50" pathLength="100" stroke-dasharray="85.2 100"/><circle class="s b" r="50" pathLength="100" stroke-dasharray="1 100" stroke-dashoffset="-85.2"/><circle class="s g" r="50" pathLength="100" stroke-dasharray="1 100" stroke-dashoffset="-86.2"/><line class="l" x2="100"/><line class="l" x2="100" transform="rotate(306.7)"/><line class="l" x2="100" transform="rotate(310.3)"/><line class="l" x2="100" transform="rotate(313.9)"/><circle class="rim" r="100"/></g><text x="2061" y="1202">OTU229</text></g>
<g id="OTU120"><circle class="h" cx="2313" cy="1215" r="57"/><g transform="translate(2313 1215) scale(.47 -.47)"><circle class="fr" r="100"/><line class="l" x2="100"/><circle class="rim" r="100"/></g><text x="2307" y="1224">OTU120</text></g>
<g id="OTU552"><circle class="h" cx="1859" cy="1266" r="55"/><g transform="translate(1859 1266) scale(.45 -.45)"><circle class="fo" r="100"/><circle class="s b" r="50" pathLength="100" stroke-dasharray="5.4 100"/><circle class="s g" r="50" pathLength="100" stroke-dasharray="93.8 100" stroke-dashoffset="-5.4"/><line class="l" x2="100"/><line class="l" x2="100" transform="rotate(19.4)"/><line class="l" x2="100" transform="rotate(357.1)"/><circle class="rim" r="100"/></g><text x="1855" y="1296">OTU552</text></g>
<g id="OTU512"><circle class="h" cx="1711" cy="1280" r="59"/><g transform="translate(1711 1280) scale(.49 -.49)"><circle class="fg" r="100"/><circle class="s b" r="50" pathLength="100" stroke-dasharray="7 100"/><line class="l" x2="100"/><line class="l" x2="100" transform="rotate(25.2)"/><circle class="rim" r="100"/></g><text x="1707" y="1317">OTU512</text></g>
<g id="OTU458"><circle class="h" cx="2032" cy="1343" r="57"/><g transform="translate(2032 1343) scale(.47 -.47)"><circle class="fg" r="100"/><circle class="s b" r="50" pathLength="100" stroke-dasharray="1.5 100"/><line class="l" x2="100"/><line class="l" x2="100" transform="rotate(5.4)"/><circle class="rim" r="100"/></g><text x="2028" y="1352">OTU458</text></g>
<g id="OTU543"><circle class="h" cx="1884" cy="1423" r="55"/><g transform="translate(1884 1423) scale(.45 -.45)"><circle class="fg" r="100"/><circle class="s b" r="50" pathLength="100" stroke-dasharray="7 100"/><line class="l" x2="100"/><line class="l" x2="100" transform="rotate(25.2)"/><circle class="rim" r="100"/></g><text x="1881" y="1434">OTU543</text></g>
<g id="OTU778"><circle class="h" cx="1732" cy="1455" r="54"/><g transform="translate(1732 1455) scale(.44 -.44)"><circle class="fo" r="100"/><circle class="s b" r="50" pathLength="100" stroke-dasharray="30.5 100"/><circle class="s g" r="50" pathLength="100" stroke-dasharray="68.5 100" stroke-dashoffset="-30.5"/><line class="l" x2="100"/><line class="l" x2="100" transform="rotate(109.8)"/><line class="l" x2="100" transform="rotate(356.4)"/><circle class="rim" r="100"/></g><text x="1728" y="1465">OTU778</text></g>
<g id="OTU565"><circle class="h" cx="1937" cy="1573" r="65"/><g transform="translate(1937 1573) scale(.55 -.55)"><circle class="fo" r="100"/><circle class="s b" r="50" pathLength="100" stroke-dasharray="23 100"/><circle class="s g" r="50" pathLength="100" stroke-dasharray="76.5 100" stroke-dashoffset="-23"/><line class="l" x2="100"/><line class="l" x2="100" transform="rotate(82.8)"/><line class="l" x2="100" transform="rotate(358.2)"/><circle class="rim" r="100"/></g><text x="1933" y="1582">OTU565</text></g>
<g id="OTU589"><circle class="h" cx="2110" cy="1572" r="59"/><g transform="translate(2110 1572) scale(.49 -.49)"><circle class="fg" r="100"/><circle class="s b" r="50" pathLength="100" stroke-dasharray="1 100"/><line class="l" x2="100"/><line class="l" x2="100" transform="rotate(3.6)"/><circle class="rim" r="100"/></g><text x="2105" y="1582">OTU589</text></g>
<g id="OTU528"><circle class="h" cx="2278" cy="1467" r="79"/><g transform="translate(2278 1467) scale(.69 -.69)"><circle class="fg" r="100"/><circle class="s b" r="50" pathLength="100" stroke-dasharray="1.2 100"/><line class="l" x2="100"/><line class="l" x2="100" transform="rotate(4.3)"/><circle class="rim" r="100"/></g><text x="2274" y="1498">OTU528</text></g>
<g id="OTU592"><circle class="h" cx="2098" cy="1796" r="55"/><g transform="translate(2098 1796) scale(.45 -.45)"><circle class="fg" r="100"/><line class="l" x2="100"/><circle class="rim" r="100"/></g><text x="2094" y="1805">OTU592</text></g>
<g id="OTU471"><circle class="h" cx="2281" cy="1936" r="56"/><g transform="translate(2281 1936) scale(.46 -.46)"><circle class="fg" r="100"/><line class="l" x2="100"/><circle class="rim" r="100"/></g><text x="2276" y="1944">OTU471</text></g>
<g id="OTU573"><circle class="h" cx="1751" cy="1784" r="134"/><g transform="translate(1751 1784) scale(1.24 -1.24)"><circle class="fo" r="100"/><circle class="s b" r="50" pathLength="100" stroke-dasharray="22.8 100"/><circle class="s g" r="50" pathLength="100" stroke-dasharray="76.4 100" stroke-dashoffset="-22.8"/><line class="l" x2="100"/><line class="l" x2="100" transform="rotate(82.1)"/><line class="l" x2="100" transform="rotate(357.1)"/><circle class="rim" r="100"/></g><text x="1746" y="1836">OTU573</text></g>
<g id="OTU598"><circle class="h" cx="1600" cy="1590" r="64"/><g transform="translate(1600 1590) scale(.54 -.54)"><circle class="fo" r="100"/><circle class="s b" r="50" pathLength="100" stroke-dasharray="40 100"/><circle class="s g" r="50" pathLength="100" stroke-dasharray="59 100" stroke-dashoffset="-40"/><line class="l" x2="100"/><line class="l" x2="100" transform="rotate(144)"/><line class="l" x2="100" transform="rotate(356.4)"/><circle class="rim" r="100"/></g><text x="1595" y="1614">OTU598</text></g>
<g id="OTU790"><circle class="h" cx="1018" cy="1765" r="159"/><g transform="translate(1018 1765) scale(1.49 -1.49)"><circle class="fo" r="100"/><circle class="s b" r="50" pathLength="100" stroke-dasharray="40.8 100"/><circle class="s g" r="50" pathLength="100" stroke-dasharray="44.7 100" stroke-dashoffset="-40.8"/><line class="l" x2="100"/><line class="l" x2="100" transform="rotate(146.9)"/><line class="l" x2="100" transform="rotate(307.8)"/><circle class="rim" r="100"/></g><text x="1014" y="1810">OTU790</text></g>
<g id="OTU596"><circle class="h" cx="1393" cy="1795" r="107"/><g transform="translate(1393 1795) scale(.97 -.97)"><circle class="fo" r="100"/><circle class="s b" r="50" pathLength="100" stroke-dasharray="38 100"/><circle class="s g" r="50" pathLength="100" stroke-dasharray="56.3 100" stroke-dashoffset="-38"/><line class="l" x2="100"/><line class="l" x2="100" transform="rotate(136.8)"/><line class="l" x2="100" transform="rotate(339.5)"/><circle class="rim" r="100"/></g><text x="1390" y="1841">OTU596</text></g>
<g id="OTU633"><circle class="h" cx="1247" cy="1629" r="89"/><g transform="translate(1247 1629) scale(.79 -.79)"><circle class="fg" r="100"/><circle class="s b" r="50" pathLength="100" stroke-dasharray="18.8 100"/><line class="l" x2="100"/><line class="l" x2="100" transform="rotate(67.7)"/><circle class="rim" r="100"/></g><text x="1242" y="1667">OTU633</text></g>
<g id="OTU576"><circle class="h" cx="1400" cy="1572" r="57"/><g transform="translate(1400 1572) scale(.47 -.47)"><circle class="fo" r="100"/><circle class="s b" r="50" pathLength="100" stroke-dasharray="24.5 100"/><circle class="s g" r="50" pathLength="100" stroke-dasharray="50.5 100" stroke-dashoffset="-24.5"/><line class="l" x2="100"/><line class="l" x2="100" transform="rotate(88.2)"/><line class="l" x2="100" transform="rotate(270)"/><circle class="rim" r="100"/></g><text x="1396" y="1602">OTU576</text></g>
<g id="OTU580"><circle class="h" cx="1476" cy="1457" r="61"/><g transform="translate(1476 1457) scale(.51 -.51)"><circle class="fo" r="100"/><circle class="s b" r="50" pathLength="100" stroke-dasharray="8.9 100"/><circle class="s g" r="50" pathLength="100" stroke-dasharray="62.7 100" stroke-dashoffset="-8.9"/><line class="l" x2="100"/><line class="l" x2="100" transform="rotate(32)"/><line class="l" x2="100" transform="rotate(257.8)"/><circle class="rim" r="100"/></g><text x="1472" y="1488">OTU580</text></g>
<g id="OTU638"><circle class="h" cx="1218" cy="1482" r="56"/><g transform="translate(1218 1482) scale(.46 -.46)"><circle class="fo" r="100"/><circle class="s b" r="50" pathLength="100" stroke-dasharray="45.3 100"/><circle class="s g" r="50" pathLength="100" stroke-dasharray="37.4 100" stroke-dashoffset="-45.3"/><line class="l" x2="100"/><line class="l" x2="100" transform="rotate(163.1)"/><line class="l" x2="100" transform="rotate(297.7)"/><circle class="rim" r="100"/></g><text x="1201" y="1513">OTU638</text></g>
<g id="OTU648"><circle class="h" cx="1306" cy="1453" r="62"/><g transform="translate(1306 1453) scale(.52 -.52)"><circle class="fo" r="100"/><circle class="s b" r="50" pathLength="100" stroke-dasharray="50 100"/><circle class="s g" r="50" pathLength="100" stroke-dasharray="29.3 100" stroke-dashoffset="-50"/><line class="l" x2="100"/><line class="l" x2="100" transform="rotate(180)"/><line class="l" x2="100" transform="rotate(285.5)"/><circle class="rim" r="100"/></g><text x="1301" y="1484">OTU648</text></g>
<g id="OTU726"><circle class="h" cx="1062" cy="1488" r="62"/><g transform="translate(1062 1488) scale(.52 -.52)"><circle class="fo" r="100"/><circle class="s b" r="50" pathLength="100" stroke-dasharray="79 100"/><circle class="s g" r="50" pathLength="100" stroke-dasharray="7 100" stroke-dashoffset="-79"/><line class="l" x2="100"/><line class="l" x2="100" transform="rotate(284.4)"/><line class="l" x2="100" transform="rotate(309.6)"/><circle class="rim" r="100"/></g><text x="1057" y="1513">OTU726</text></g>
<g id="OTU740"><circle class="h" cx="894" cy="1462" r="71"/><g transform="translate(894 1462) scale(.61 -.61)"><circle class="fg" r="100"/><circle class="s b" r="50" pathLength="100" stroke-dasharray="70.6 100"/><line class="l" x2="100"/><line class="l" x2="100" transform="rotate(254.2)"/><circle class="rim" r="100"/></g><text x="890" y="1494">OTU740</text></g>
<g id="OTU628"><circle class="h" cx="1131" cy="1345" r="57"/><g transform="translate(1131 1345) scale(.47 -.47)"><circle class="fo" r="100"/><circle class="s b" r="50" pathLength="100" stroke-dasharray="43 100"/><circle class="s g" r="50" pathLength="100" stroke-dasharray="49 100" stroke-dashoffset="-43"/><line class="l" x2="100"/><line class="l" x2="100" transform="rotate(154.8)"/><line class="l" x2="100" transform="rotate(331.2)"/><circle class="rim" r="100"/></g><text x="1127" y="1377">OTU628</text></g>
<g id="OTU368"><circle class="h" cx="1403" cy="1358" r="57"/><g transform="translate(1403 1358) scale(.47 -.47)"><circle class="fo" r="100"/><circle class="s b" r="50" pathLength="100" stroke-dasharray="31 100"/><circle class="s g" r="50" pathLength="100" stroke-dasharray="39 100" stroke-dashoffset="-31"/><line class="l" x2="100"/><line class="l" x2="100" transform="rotate(111.6)"/><line class="l" x2="100" transform="rotate(252)"/><circle class="rim" r="100"/></g><text x="1399" y="1389">OTU368</text></g>
<g id="OTU703"><circle class="h" cx="966" cy="1314" r="57"/><g transform="translate(966 1314) scale(.47 -.47)"><circle class="fo" r="100"/><circle class="s b" r="50" pathLength="100" stroke-dasharray="58.3 100"/><circle class="s g" r="50" pathLength="100" stroke-dasharray="7.5 100" stroke-dashoffset="-58.3"/><line class="l" x2="100"/><line class="l" x2="100" transform="rotate(210)"/><line class="l" x2="100" transform="rotate(237)"/><circle class="rim" r="100"/></g><text x="963" y="1345">OTU703</text></g>
<g id="OTU490"><circle class="h" cx="1552" cy="1330" r="57"/><g transform="translate(1552 1330) scale(.47 -.47)"><circle class="fo" r="100"/><circle class="s b" r="50" pathLength="100" stroke-dasharray="45 100"/><circle class="s g" r="50" pathLength="100" stroke-dasharray="52 100" stroke-dashoffset="-45"/><line class="l" x2="100"/><line class="l" x2="100" transform="rotate(162)"/><line class="l" x2="100" transform="rotate(349.2)"/><circle class="rim" r="100"/></g><text x="1555" y="1355">OTU490</text></g>
<g id="OTU424"><circle class="h" cx="883" cy="670" r="58"/><g transform="translate(883 670) scale(.48 -.48)"><circle class="fo" r="100"/><circle class="s b" r="50" pathLength="100" stroke-dasharray="35 100"/><circle class="s g" r="50" pathLength="100" stroke-dasharray="7 100" stroke-dashoffset="-35"/><line class="l" x2="100"/><line class="l" x2="100" transform="rotate(126)"/><line class="l" x2="100" transform="rotate(151.2)"/><circle class="rim" r="100"/></g><text x="879" y="701">OTU424</text></g>
<g id="OTU286"><circle class="h" cx="1162" cy="702" r="60"/><g transform="translate(1162 702) scale(.5 -.5)"><circle class="fo" r="100"/><circle class="s b" r="50" pathLength="100" stroke-dasharray="21 100"/><line class="l" x2="100"/><line class="l" x2="100" transform="rotate(75.6)"/><circle class="rim" r="100"/></g><text x="1158" y="736">OTU286</text></g>
<g id="OTU376"><circle class="h" cx="1362" cy="747" r="55"/><g transform="translate(1362 747) scale(.45 -.45)"><circle class="fo" r="100"/><circle class="s b" r="50" pathLength="100" stroke-dasharray="11.5 100"/><circle class="s g" r="50" pathLength="100" stroke-dasharray="1 100" stroke-dashoffset="-11.5"/><line class="l" x2="100"/><line class="l" x2="100" transform="rotate(41.4)"/><line class="l" x2="100" transform="rotate(45)"/><circle class="rim" r="100"/></g><text x="1358" y="755">OTU376</text></g>
<g id="OTU453"><circle class="h" cx="1230" cy="800" r="58"/><g transform="translate(1230 800) scale(.48 -.48)"><circle class="fo" r="100"/><circle class="s r" r="50" pathLength="100" stroke-dasharray="9.7 100"/><circle class="s b" r="50" pathLength="100" stroke-dasharray="38.3 100" stroke-dashoffset="-9.7"/><circle class="s g" r="50" pathLength="100" stroke-dasharray="1 100" stroke-dashoffset="-48"/><line class="l" x2="100"/><line class="l" x2="100" transform="rotate(34.9)"/><line class="l" x2="100" transform="rotate(172.8)"/><line class="l" x2="100" transform="rotate(176.4)"/><circle class="rim" r="100"/></g><text x="1225" y="831">OTU453</text></g>
<g id="OTU380"><circle class="h" cx="935" cy="793" r="57"/><g transform="translate(935 793) scale(.47 -.47)"><circle class="fo" r="100"/><circle class="s r" r="50" pathLength="100" stroke-dasharray="1 100"/><circle class="s b" r="50" pathLength="100" stroke-dasharray="38 100" stroke-dashoffset="-1"/><circle class="s g" r="50" pathLength="100" stroke-dasharray="1.5 100" stroke-dashoffset="-39"/><line class="l" x2="100"/><line class="l" x2="100" transform="rotate(3.6)"/><line class="l" x2="100" transform="rotate(140.4)"/><line class="l" x2="100" transform="rotate(145.8)"/><circle class="rim" r="100"/></g><text x="930" y="825">OTU380</text></g>
<g id="OTU364"><circle class="h" cx="1077" cy="820" r="60"/><g transform="translate(1077 820) scale(.5 -.5)"><circle class="fo" r="100"/><circle class="s b" r="50" pathLength="100" stroke-dasharray="36.6 100"/><circle class="s g" r="50" pathLength="100" stroke-dasharray="3 100" stroke-dashoffset="-36.6"/><line class="l" x2="100"/><line class="l" x2="100" transform="rotate(131.8)"/><line class="l" x2="100" transform="rotate(142.6)"/><circle class="rim" r="100"/></g><text x="1073" y="850">OTU364</text></g>
<g id="OTU418"><circle class="h" cx="766" cy="823" r="56"/><g transform="translate(766 823) scale(.46 -.46)"><circle class="fo" r="100"/><circle class="s r" r="50" pathLength="100" stroke-dasharray="0.5 100"/><circle class="s b" r="50" pathLength="100" stroke-dasharray="25.5 100" stroke-dashoffset="-0.5"/><circle class="s g" r="50" pathLength="100" stroke-dasharray="11 100" stroke-dashoffset="-26"/><line class="l" x2="100"/><line class="l" x2="100" transform="rotate(1.8)"/><line class="l" x2="100" transform="rotate(93.6)"/><line class="l" x2="100" transform="rotate(133.2)"/><circle class="rim" r="100"/></g><text x="765" y="845">OTU418</text></g>
<g id="OTU317"><circle class="h" cx="856" cy="940" r="57"/><g transform="translate(856 940) scale(.47 -.47)"><circle class="fo" r="100"/><circle class="s r" r="50" pathLength="100" stroke-dasharray="4 100"/><circle class="s b" r="50" pathLength="100" stroke-dasharray="61 100" stroke-dashoffset="-4"/><circle class="s g" r="50" pathLength="100" stroke-dasharray="4 100" stroke-dashoffset="-65"/><line class="l" x2="100"/><line class="l" x2="100" transform="rotate(14.4)"/><line class="l" x2="100" transform="rotate(234)"/><line class="l" x2="100" transform="rotate(248.4)"/><circle class="rim" r="100"/></g><text x="852" y="970">OTU317</text></g>
<g id="OTU346"><circle class="h" cx="1127" cy="948" r="59"/><g transform="translate(1127 948) scale(.49 -.49)"><circle class="fo" r="100"/><circle class="s b" r="50" pathLength="100" stroke-dasharray="44 100"/><circle class="s g" r="50" pathLength="100" stroke-dasharray="10 100" stroke-dashoffset="-44"/><line class="l" x2="100"/><line class="l" x2="100" transform="rotate(158.4)"/><line class="l" x2="100" transform="rotate(194.4)"/><circle class="rim" r="100"/></g><text x="1122" y="986">OTU346</text></g>
<g id="OTU772"><circle class="h" cx="1233" cy="1054" r="56"/><g transform="translate(1233 1054) scale(.46 -.46)"><circle class="fo" r="100"/><circle class="s b" r="50" pathLength="100" stroke-dasharray="2.8 100"/><circle class="s g" r="50" pathLength="100" stroke-dasharray="30 100" stroke-dashoffset="-2.8"/><line class="l" x2="100"/><line class="l" x2="100" transform="rotate(10.1)"/><line class="l" x2="100" transform="rotate(118.1)"/><circle class="rim" r="100"/></g><text x="1228" y="1085">OTU772</text></g>
<g id="OTU288"><circle class="h" cx="1274" cy="972" r="56"/><g transform="translate(1274 972) scale(.46 -.46)"><circle class="fo" r="100"/><circle class="s b" r="50" pathLength="100" stroke-dasharray="15.3 100"/><circle class="s g" r="50" pathLength="100" stroke-dasharray="1.4 100" stroke-dashoffset="-15.3"/><line class="l" x2="100"/><line class="l" x2="100" transform="rotate(55.1)"/><line class="l" x2="100" transform="rotate(60.1)"/><circle class="rim" r="100"/></g><text x="1270" y="1002">OTU288</text></g>
<g id="OTU548"><circle class="h" cx="966" cy="1017" r="55"/><g transform="translate(966 1017) scale(.45 -.45)"><circle class="fo" r="100"/><circle class="s r" r="50" pathLength="100" stroke-dasharray="2 100"/><circle class="s b" r="50" pathLength="100" stroke-dasharray="47.5 100" stroke-dashoffset="-2"/><circle class="s g" r="50" pathLength="100" stroke-dasharray="16.3 100" stroke-dashoffset="-49.5"/><line class="l" x2="100"/><line class="l" x2="100" transform="rotate(7.2)"/><line class="l" x2="100" transform="rotate(178.2)"/><line class="l" x2="100" transform="rotate(236.9)"/><circle class="rim" r="100"/></g><text x="963" y="1047">OTU548</text></g>
<g id="OTU344"><circle class="h" cx="1087" cy="1048" r="57"/><g transform="translate(1087 1048) scale(.47 -.47)"><circle class="fo" r="100"/><circle class="s r" r="50" pathLength="100" stroke-dasharray="1.5 100"/><circle class="s b" r="50" pathLength="100" stroke-dasharray="24 100" stroke-dashoffset="-1.5"/><circle class="s g" r="50" pathLength="100" stroke-dasharray="2 100" stroke-dashoffset="-25.5"/><line class="l" x2="100"/><line class="l" x2="100" transform="rotate(5.4)"/><line class="l" x2="100" transform="rotate(91.8)"/><line class="l" x2="100" transform="rotate(99)"/><circle class="rim" r="100"/></g><text x="1083" y="1079">OTU344</text></g>
<g id="OTU767"><circle class="h" cx="1343" cy="1130" r="58"/><g transform="translate(1343 1130) scale(.48 -.48)"><circle class="fg" r="100"/><circle class="s b" r="50" pathLength="100" stroke-dasharray="95.5 100"/><line class="l" x2="100"/><line class="l" x2="100" transform="rotate(343.8)"/><circle class="rim" r="100"/></g><text x="1339" y="1161">OTU767</text></g>
<g id="OTU693"><circle class="h" cx="1438" cy="1226" r="55"/><g transform="translate(1438 1226) scale(.45 -.45)"><circle class="fg" r="100"/><circle class="s b" r="50" pathLength="100" stroke-dasharray="38 100"/><line class="l" x2="100"/><line class="l" x2="100" transform="rotate(136.8)"/><circle class="rim" r="100"/></g><text x="1433" y="1251">OTU693</text></g>
<g id="OTU523"><circle class="h" cx="1279" cy="1283" r="55"/><g transform="translate(1279 1283) scale(.45 -.45)"><circle class="fg" r="100"/><circle class="s b" r="50" pathLength="100" stroke-dasharray="51 100"/><line class="l" x2="100"/><line class="l" x2="100" transform="rotate(183.6)"/><circle class="rim" r="100"/></g><text x="1274" y="1315">OTU523</text></g>
<g id="OTU272"><circle class="h" cx="1043" cy="1172" r="59"/><g transform="translate(1043 1172) scale(.49 -.49)"><circle class="fo" r="100"/><circle class="s r" r="50" pathLength="100" stroke-dasharray="5.3 100"/><circle class="s b" r="50" pathLength="100" stroke-dasharray="74.4 100" stroke-dashoffset="-5.3"/><circle class="s g" r="50" pathLength="100" stroke-dasharray="8 100" stroke-dashoffset="-79.7"/><line class="l" x2="100"/><line class="l" x2="100" transform="rotate(19.1)"/><line class="l" x2="100" transform="rotate(286.9)"/><line class="l" x2="100" transform="rotate(315.7)"/><circle class="rim" r="100"/></g><text x="1038" y="1202">OTU272</text></g>
<g id="OTU753"><circle class="h" cx="1174" cy="1183" r="60"/><g transform="translate(1174 1183) scale(.5 -.5)"><circle class="fo" r="100"/><circle class="s r" r="50" pathLength="100" stroke-dasharray="7 100"/><circle class="s b" r="50" pathLength="100" stroke-dasharray="55.5 100" stroke-dashoffset="-7"/><circle class="s g" r="50" pathLength="100" stroke-dasharray="1.5 100" stroke-dashoffset="-62.5"/><line class="l" x2="100"/><line class="l" x2="100" transform="rotate(25.2)"/><line class="l" x2="100" transform="rotate(225)"/><line class="l" x2="100" transform="rotate(230.4)"/><circle class="rim" r="100"/></g><text x="1170" y="1220">OTU753</text></g>
<g id="OTU361"><circle class="h" cx="838" cy="1152" r="57"/><g transform="translate(838 1152) scale(.47 -.47)"><circle class="fo" r="100"/><circle class="s b" r="50" pathLength="100" stroke-dasharray="66.3 100"/><circle class="s g" r="50" pathLength="100" stroke-dasharray="9.5 100" stroke-dashoffset="-66.3"/><line class="l" x2="100"/><line class="l" x2="100" transform="rotate(238.7)"/><line class="l" x2="100" transform="rotate(272.9)"/><circle class="rim" r="100"/></g><text x="837" y="1182">OTU361</text></g>
<g id="OTU646"><circle class="h" cx="754" cy="1037" r="63"/><g transform="translate(754 1037) scale(.53 -.53)"><circle class="fo" r="100"/><circle class="s b" r="50" pathLength="100" stroke-dasharray="79 100"/><circle class="s g" r="50" pathLength="100" stroke-dasharray="4 100" stroke-dashoffset="-79"/><line class="l" x2="100"/><line class="l" x2="100" transform="rotate(284.4)"/><line class="l" x2="100" transform="rotate(298.8)"/><circle class="rim" r="100"/></g><text x="753" y="1069">OTU646</text></g>
<g id="OTU421"><circle class="h" cx="635" cy="882" r="74"/><g transform="translate(635 882) scale(.64 -.64)"><circle class="fo" r="100"/><circle class="s b" r="50" pathLength="100" stroke-dasharray="50 100"/><circle class="s g" r="50" pathLength="100" stroke-dasharray="2 100" stroke-dashoffset="-50"/><line class="l" x2="100"/><line class="l" x2="100" transform="rotate(180)"/><line class="l" x2="100" transform="rotate(187.2)"/><circle class="rim" r="100"/></g><text x="630" y="912">OTU421</text></g>
<g id="OTU605"><circle class="h" cx="479" cy="1039" r="87"/><g transform="translate(479 1039) scale(.77 -.77)"><circle class="fo" r="100"/><circle class="s b" r="50" pathLength="100" stroke-dasharray="13.7 100"/><circle class="s g" r="50" pathLength="100" stroke-dasharray="33.5 100" stroke-dashoffset="-13.7"/><line class="l" x2="100"/><line class="l" x2="100" transform="rotate(49.3)"/><line class="l" x2="100" transform="rotate(169.9)"/><circle class="rim" r="100"/></g><text x="474" y="1076">OTU605</text></g>
<g id="OTU445"><circle class="h" cx="615" cy="1184" r="65"/><g transform="translate(615 1184) scale(.55 -.55)"><circle class="fo" r="100"/><circle class="s b" r="50" pathLength="100" stroke-dasharray="30.8 100"/><circle class="s g" r="50" pathLength="100" stroke-dasharray="1.2 100" stroke-dashoffset="-30.8"/><line class="l" x2="100"/><line class="l" x2="100" transform="rotate(110.9)"/><line class="l" x2="100" transform="rotate(115.2)"/><circle class="rim" r="100"/></g><text x="611" y="1208">OTU445</text></g>
<g id="OTU635"><circle class="h" cx="274" cy="1233" r="67"/><g transform="translate(274 1233) scale(.57 -.57)"><circle class="fb" r="100"/><line class="l" x2="100"/><circle class="rim" r="100"/></g><text x="270" y="1242">OTU635</text></g>
<g id="OTU765"><circle class="h" cx="641" cy="1314" r="67"/><g transform="translate(641 1314) scale(.57 -.57)"><circle class="fo" r="100"/><circle class="s b" r="50" pathLength="100" stroke-dasharray="74.5 100"/><circle class="s g" r="50" pathLength="100" stroke-dasharray="1 100" stroke-dashoffset="-74.5"/><line class="l" x2="100"/><line class="l" x2="100" transform="rotate(268.2)"/><line class="l" x2="100" transform="rotate(271.8)"/><circle class="rim" r="100"/></g><text x="637" y="1344">OTU765</text></g>
<g id="OTU509"><circle class="h" cx="649" cy="1495" r="84"/><g transform="translate(649 1495) scale(.74 -.74)"><circle class="fo" r="100"/><circle class="s b" r="50" pathLength="100" stroke-dasharray="50.3 100"/><circle class="s g" r="50" pathLength="100" stroke-dasharray="28.7 100" stroke-dashoffset="-50.3"/><line class="l" x2="100"/><line class="l" x2="100" transform="rotate(181.1)"/><line class="l" x2="100" transform="rotate(284.4)"/><circle class="rim" r="100"/></g><text x="645" y="1527">OTU509</text></g>
<g id="OTU413"><circle class="h" cx="690" cy="691" r="65"/><g transform="translate(690 691) scale(.55 -.55)"><circle class="fo" r="100"/><circle class="s b" r="50" pathLength="100" stroke-dasharray="15 100"/><circle class="s g" r="50" pathLength="100" stroke-dasharray="24 100" stroke-dashoffset="-15"/><line class="l" x2="100"/><line class="l" x2="100" transform="rotate(54)"/><line class="l" x2="100" transform="rotate(140.4)"/><circle class="rim" r="100"/></g><text x="685" y="715">OTU413</text></g>
</g>
<g id="hubs" class="hub">
<g id="D7"><rect x="1537" y="748" width="82" height="82" fill="#F5821F"/><text x="1578" y="807">D7</text></g>
<g id="D1"><rect x="1747" y="832" width="82" height="82" fill="#EE2A3E"/><text x="1788" y="891">D1</text></g>
<g id="D30"><rect x="1422" y="958" width="82" height="82" fill="#3A4BA5"/><text x="1463" y="1016">D30</text></g>
<g id="D15"><rect x="1649" y="1054" width="82" height="82" fill="#47B833"/><text x="1690" y="1112">D15</text></g>
</g>
</svg>
